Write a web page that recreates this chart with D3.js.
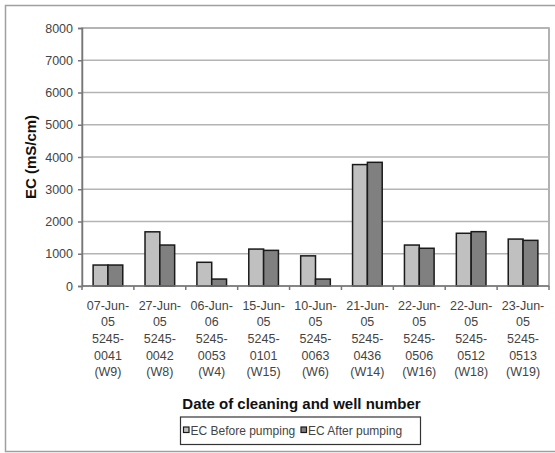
<!DOCTYPE html>
<html><head><meta charset="utf-8">
<script src="https://cdn.jsdelivr.net/npm/d3@7"></script>
<style>body{margin:0;background:#fff}svg{display:block}</style>
</head><body>
<svg id="c" width="555" height="453"></svg>
<script>
const categories = [
  ["07-Jun-","05","5245-","0041","(W9)"],
  ["27-Jun-","05","5245-","0042","(W8)"],
  ["06-Jun-","06","5245-","0053","(W4)"],
  ["15-Jun-","05","5245-","0101","(W15)"],
  ["10-Jun-","05","5245-","0063","(W6)"],
  ["21-Jun-","05","5245-","0436","(W14)"],
  ["22-Jun-","05","5245-","0506","(W16)"],
  ["22-Jun-","05","5245-","0512","(W18)"],
  ["23-Jun-","05","5245-","0513","(W19)"]
];
const before = [650, 1680, 735, 1145, 935, 3765, 1270, 1635, 1455];
const after  = [650, 1270, 215, 1105, 215, 3835, 1170, 1685, 1415];
const seriesNames = ["EC Before pumping", "EC After pumping"];
const yTicks = [0,1000,2000,3000,4000,5000,6000,7000,8000];

const svg = d3.select("#c");
const font = "'Liberation Sans', Arial, sans-serif";
const L = 82, R = 549, T = 28, B = 286;
const colors = ["#c0c0c0", "#808080"];

// outer border
svg.append("rect").attr("x",5.5).attr("y",5.5).attr("width",600).attr("height",446)
  .attr("fill","#fff").attr("stroke","#a0a0a0").attr("stroke-width",1.5);

const x = d3.scaleBand().domain(d3.range(categories.length)).range([L, R]);
const y = d3.scaleLinear().domain([0, 8000]).range([B, T]);

// plot area border
svg.append("rect").attr("x",L).attr("y",T).attr("width",R-L).attr("height",B-T)
  .attr("fill","#fff").attr("stroke","#999").attr("stroke-width",1.5);

// gridlines
svg.append("g").selectAll("line").data(yTicks.filter(d=>d>0)).join("line")
  .attr("x1",L).attr("x2",R).attr("y1",d=>y(d)).attr("y2",d=>y(d))
  .attr("stroke","#b4b4b4").attr("stroke-width",1.5);

// bars
const bw = x.bandwidth() / 3.5;
const series = [before, after];
series.forEach((vals, si) => {
  svg.append("g").selectAll("rect").data(vals).join("rect")
    .attr("x", (d,i) => x(i) + x.bandwidth()/2 - bw + si*bw)
    .attr("y", d => y(d))
    .attr("width", bw)
    .attr("height", d => y(0) - y(d))
    .attr("fill", colors[si])
    .attr("stroke", "#1a1a1a").attr("stroke-width", 1.5);
});

// y axis
const yAxis = svg.append("g").attr("transform",`translate(${L},0)`)
  .call(d3.axisLeft(y).tickValues(yTicks).tickSize(4).tickPadding(5).tickFormat(d3.format("d")));
yAxis.select(".domain").attr("stroke","#777").attr("stroke-width",1.5);
yAxis.selectAll(".tick line").attr("stroke","#777").attr("stroke-width",1.5);
yAxis.selectAll("text").attr("font-family",font).attr("font-size","12.5px").attr("fill","#444");

// x axis
const xAxisLine = svg.append("g");
xAxisLine.append("line").attr("x1",L).attr("x2",R).attr("y1",B).attr("y2",B)
  .attr("stroke","#777").attr("stroke-width",1.5);
xAxisLine.selectAll("line.t").data(d3.range(categories.length+1)).join("line").attr("class","t")
  .attr("x1",i=>L + i*x.step()).attr("x2",i=>L + i*x.step())
  .attr("y1",B).attr("y2",B+4).attr("stroke","#777").attr("stroke-width",1.5);

// x labels
const lab = svg.append("g").selectAll("text").data(categories).join("text")
  .attr("x",(d,i)=>x(i)+x.bandwidth()/2).attr("y",309.5)
  .attr("text-anchor","middle").attr("font-family",font).attr("font-size","12.5px").attr("fill","#444");
lab.selectAll("tspan").data(d=>d).join("tspan")
  .attr("x",function(){return this.parentNode.getAttribute("x");})
  .attr("dy",(d,i)=>i===0?0:16.7).text(d=>d);

// axis titles
svg.append("text").attr("x",301.5).attr("y",408.5).attr("text-anchor","middle")
  .attr("font-family",font).attr("font-weight","bold").attr("font-size","15px").attr("fill","#111")
  .text("Date of cleaning and well number");
svg.append("text").attr("transform","translate(35.5,157) rotate(-90)").attr("text-anchor","middle")
  .attr("font-family",font).attr("font-weight","bold").attr("font-size","15px").attr("fill","#111")
  .text("EC (mS/cm)");

// legend
const lg = svg.append("g");
lg.append("rect").attr("x",180.5).attr("y",417).attr("width",240).attr("height",27.5)
  .attr("fill","#fff").attr("stroke","#333").attr("stroke-width",1.2);
const lx = [183.5, 301];
seriesNames.forEach((n,i)=>{
  lg.append("rect").attr("x",lx[i]).attr("y",427).attr("width",5.5).attr("height",5.5)
    .attr("fill",colors[i]).attr("stroke","#1a1a1a").attr("stroke-width",1.2);
  lg.append("text").attr("x",lx[i]+7).attr("y",434.5).attr("font-family",font).attr("font-size","12px")
    .attr("fill","#444").text(n);
});
</script>
</body></html>
